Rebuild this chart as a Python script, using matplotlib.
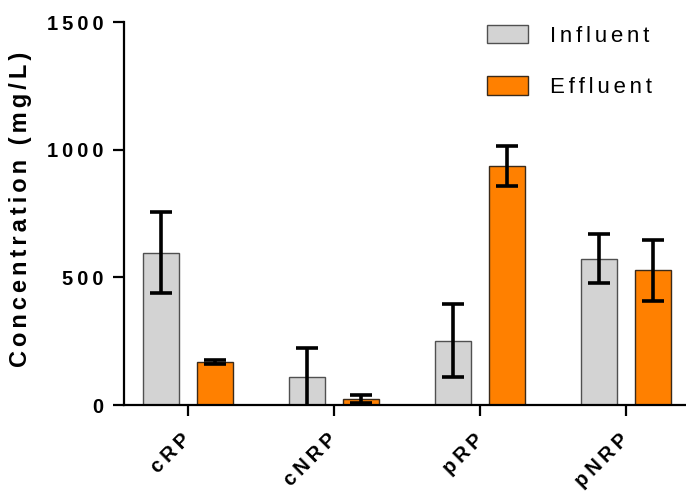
import matplotlib
matplotlib.use("Agg")
import matplotlib.pyplot as plt
import numpy as np

categories = ["cRP", "cNRP", "pRP", "pNRP"]
influent = [597, 110, 252, 573]
influent_err = [157, 115, 143, 96]
effluent = [168, 23, 936, 527]
effluent_err = [8, 16, 77, 118]
series_labels = ["Influent", "Effluent"]
yticks = [0, 500, 1000, 1500]

plt.rcParams['font.family'] = ['Liberation Sans', 'DejaVu Sans']

HS2 = "\u200a\u200a"
THIN = "\u2009"

def spaced(s, sep=HS2):
    return sep.join(list(s))

fig = plt.figure(figsize=(6.86, 4.98), dpi=100)
ax = fig.add_axes([124/686, 1-405/498, 1-124/686, (405-22)/498])

x = np.arange(len(categories))
off = 27/146
w = 36/146
ax.bar(x - off, influent, w, color="#D3D3D3", edgecolor="#505050", linewidth=1.0, label=spaced(series_labels[0]))
ax.bar(x + off, effluent, w, color="#FF8000", edgecolor="#3a2a1a", linewidth=1.0, label=spaced(series_labels[1]))
ax.errorbar(x - off, influent, yerr=influent_err, fmt="none", ecolor="black", elinewidth=2.6, capsize=8, capthick=2.6, zorder=3)
ax.errorbar(x + off, effluent, yerr=effluent_err, fmt="none", ecolor="black", elinewidth=2.6, capsize=8, capthick=2.6, zorder=3)

ax.set_xlim(-64/146, 3 + 60/146)
ax.set_ylim(0, 1500)
ax.set_yticks(yticks)
ax.set_yticklabels([spaced(str(v), THIN) for v in yticks], fontsize=14.5, fontweight="bold")
ax.set_xticks(x)
ax.set_xticklabels([spaced(c, THIN) for c in categories], fontsize=14.5, fontweight="bold",
                   rotation=45, ha="right", va="center", rotation_mode="anchor")
ax.tick_params(axis="both", direction="out", length=8, width=1.6)
ax.tick_params(axis="y", pad=7)
ax.tick_params(axis="x", pad=15)
for s in ["top", "right"]:
    ax.spines[s].set_visible(False)
for s in ["left", "bottom"]:
    ax.spines[s].set_linewidth(1.6)

ax.set_ylabel(spaced("Concentration (mg/L)"), fontsize=17, fontweight="bold")
ax.yaxis.set_label_coords(-0.163, 0.512)

leg = ax.legend(loc="upper left", bbox_to_anchor=((487-124)/562 - 0.0153, 1.016), frameon=False,
                fontsize=16, handlelength=1.85, handleheight=0.9, handletextpad=0.95, labelspacing=1.33,
                borderaxespad=0)

fig.savefig("out.png", dpi=100)
